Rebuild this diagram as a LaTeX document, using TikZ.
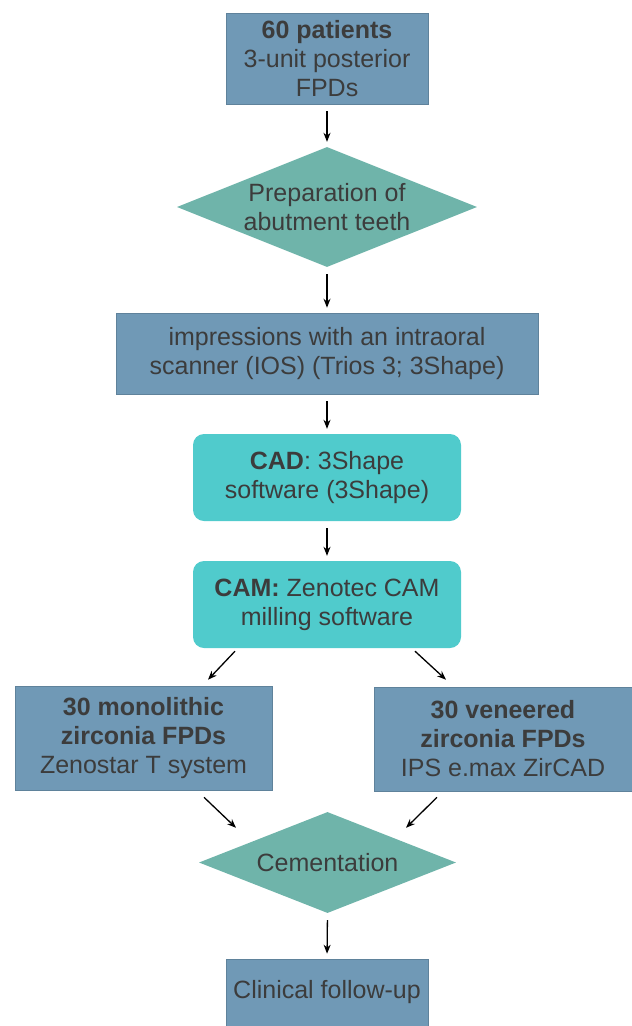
\documentclass[tikz,border=0pt]{standalone}
\usepackage{fontspec}
\setmainfont{Liberation Sans}
\usetikzlibrary{shapes.geometric,arrows.meta}

\definecolor{boxblue}{HTML}{7099B6}
\definecolor{decteal}{HTML}{6FB4AA}
\definecolor{softcyan}{HTML}{50CBCC}
\definecolor{inkgray}{HTML}{3C3C3C}

\tikzset{
    base/.style={text=inkgray, align=center, font=\fontsize{25}{29}\selectfont, inner sep=2pt},
    stepbox/.style={base, rectangle, fill=boxblue, draw=boxblue!85!black, line width=0.6pt},
    softbox/.style={base, rectangle, rounded corners=11pt, fill=softcyan},
    % diamonds keep the size given by minimum width/height
    decision/.style={base, diamond, fill=decteal, aspect=2.5, inner xsep=-40pt, inner ysep=-20pt},
    arr/.style={-{Stealth[length=9pt,width=7pt]}, line width=1.3pt, black},
    varr/.style={arr, shorten <=7pt, shorten >=5pt}
}

\begin{document}
\begin{tikzpicture}[x=1pt,y=-1pt]
    \useasboundingbox (0,0) rectangle (632,1026);

    % main column
    \node[stepbox, minimum width=202pt, minimum height=91pt] (patients) at (327,58.5)
        {\textbf{60 patients}\\3-unit posterior\\FPDs};
    \node[decision, minimum width=300pt, minimum height=120pt] (prep) at (327,207)
        {Preparation of\\abutment teeth};
    \node[stepbox, minimum width=422pt, minimum height=81pt] (scan) at (327,353.5)
        {impressions with an intraoral\\scanner (IOS) (Trios 3; 3Shape)};
    \node[softbox, minimum width=268pt, minimum height=87pt] (cad) at (327,477.5)
        {\textbf{CAD}: 3Shape\\software (3Shape)};
    \node[softbox, minimum width=268pt, minimum height=87pt] (cam) at (327,604.5)
        {\textbf{CAM:} Zenotec CAM\\milling software};

    % two branches
    \node[stepbox, minimum width=257pt, minimum height=104pt] (mono) at (143.5,738)
        {\textbf{30 monolithic}\\\textbf{zirconia FPDs}\\Zenostar T system};
    \node[stepbox, minimum width=258pt, minimum height=104pt] (ven) at (503,739)
        {\textbf{30 veneered}\\\textbf{zirconia FPDs}\\IPS e.max ZirCAD};

    \node[decision, minimum width=257pt, minimum height=101pt] (cem) at (327.5,862.5)
        {Cementation};
    \node[stepbox, minimum width=202pt, minimum height=67pt] (follow) at (327,992.5)
        {Clinical follow-up};

    % connectors
    \draw[varr] (patients.south) -- (prep.north);
    \draw[varr] (prep.south) -- (scan.north);
    \draw[varr] (scan.south) -- (cad.north);
    \draw[varr] (cad.south) -- (cam.north);
    \draw[varr] (cem.south) -- (follow.north);

    \draw[arr] ([xshift=-92pt,yshift=-3pt]cam.south) -- ([xshift=64.5pt,yshift=6pt]mono.north);
    \draw[arr] ([xshift=88pt,yshift=-3pt]cam.south) -- ([xshift=-57pt,yshift=7pt]ven.north);
    \draw[arr] ([xshift=60.5pt,yshift=-7pt]mono.south) -- ([xshift=-91.5pt,yshift=-16pt]cem.north);
    \draw[arr] ([xshift=-66pt,yshift=-6pt]ven.south) -- ([xshift=78.5pt,yshift=-16pt]cem.north);
\end{tikzpicture}
\end{document}
